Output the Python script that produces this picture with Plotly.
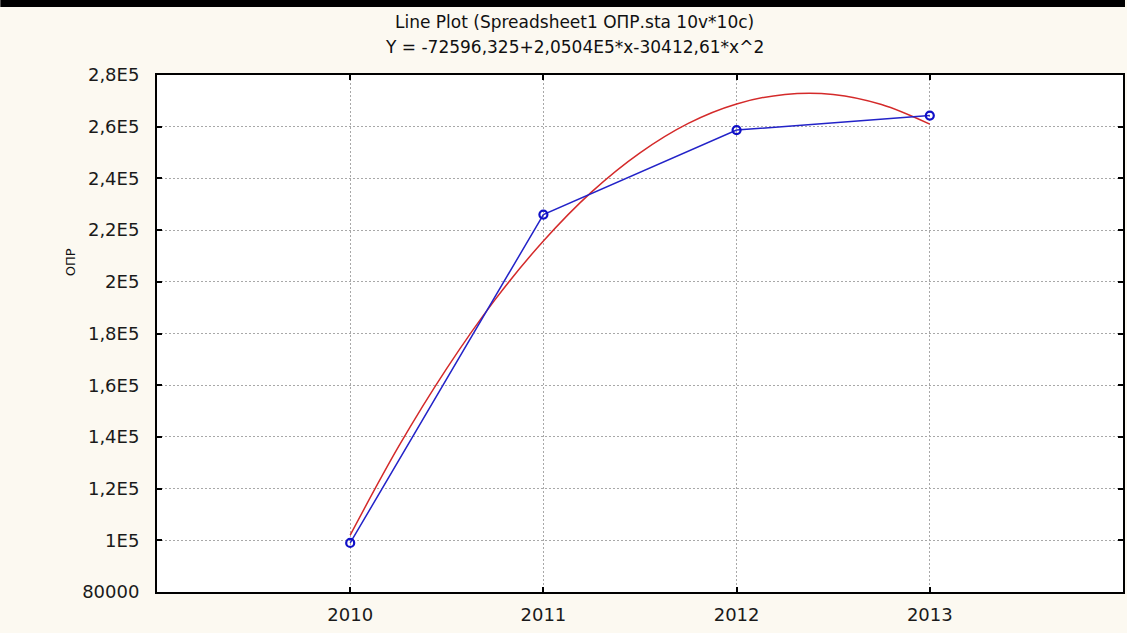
import plotly.graph_objects as go

# Data
years = [2010, 2011, 2012, 2013]
opr_values = [99000, 226000, 258700, 264300]

# Fitted quadratic curve (red)
fit_years = [2010, 2010.25, 2010.5, 2010.75, 2011, 2011.25, 2011.5, 2011.75,
             2012, 2012.25, 2012.5, 2012.75, 2013]
fit_values = [102000, 136200, 166500, 193100, 215800, 234800, 249900, 261300,
              268800, 272500, 272500, 268600, 261000]

y_tickvals = [80000, 100000, 120000, 140000, 160000, 180000, 200000,
              220000, 240000, 260000, 280000]
y_ticktext = ["80000", "1E5", "1,2E5", "1,4E5", "1,6E5", "1,8E5", "2E5",
              "2,2E5", "2,4E5", "2,6E5", "2,8E5"]
x_tickvals = [2010, 2011, 2012, 2013]
x_ticktext = ["2010", "2011", "2012", "2013"]

title_line1 = "Line Plot (Spreadsheet1 ОПР.sta 10v*10c)"
title_line2 = "Y = -72596,325+2,0504E5*x-30412,61*x^2"
y_label = "ОПР"

FONT = "DejaVu Sans"
W, H = 1127, 633
L, R, T, B = 157, 2, 75, 41
ph = H - T - B

fig = go.Figure()
fig.add_trace(go.Scatter(
    x=fit_years, y=fit_values, mode="lines", line_shape="spline",
    line=dict(color="#d42a2a", width=1.5), hoverinfo="skip", showlegend=False))
fig.add_trace(go.Scatter(
    x=years, y=opr_values, mode="lines+markers",
    line=dict(color="#2323c8", width=1.5),
    marker=dict(symbol="circle-open", size=8, color="#1010c8", line=dict(width=2.2)),
    showlegend=False))

def py(p):
    return 1 + (T - p) / ph

fig.add_shape(type="rect", xref="paper", yref="paper", x0=-L / (W - L - R), x1=1 + R / (W - L - R),
              y0=py(7), y1=py(0), fillcolor="black", line=dict(width=0), layer="above")

fig.add_annotation(text=title_line1, xref="paper", yref="paper",
                   x=(575 - L) / (W - L - R), y=py(22), xanchor="center", yanchor="middle",
                   showarrow=False, font=dict(family=FONT, size=17, color="#111"))
fig.add_annotation(text=title_line2, xref="paper", yref="paper",
                   x=(575 - L) / (W - L - R), y=py(47), xanchor="center", yanchor="middle",
                   showarrow=False, font=dict(family=FONT, size=17, color="#111"))
fig.add_annotation(text=y_label, xref="paper", yref="paper",
                   x=(70 - L) / (W - L - R), y=py(262), xanchor="center", yanchor="middle",
                   textangle=-90, showarrow=False, font=dict(family=FONT, size=13, color="#111"))

axis_common = dict(
    showline=True, linecolor="black", linewidth=2, mirror="allticks",
    ticks="inside", ticklen=5, tickwidth=2, tickcolor="black",
    showgrid=True, gridcolor="#a8a8a8", gridwidth=1, griddash="2px,2px",
    zeroline=False, tickfont=dict(family=FONT, size=18, color="#1a1a1a"),
)

fig.update_xaxes(range=[2009, 2014], tickvals=x_tickvals, ticktext=x_ticktext,
                 ticklabelstandoff=5, **axis_common)
fig.update_yaxes(range=[80000, 280000], tickvals=y_tickvals, ticktext=y_ticktext,
                 ticklabelstandoff=12, **axis_common)

fig.update_layout(
    width=W, height=H,
    margin=dict(l=L, r=R, t=T, b=B, pad=0),
    paper_bgcolor="#fcf9f1", plot_bgcolor="white",
)

fig.write_html("out.html", config={"displayModeBar": False},
               post_script="document.body.style.margin='0';document.body.style.background='#fcf9f1';")
